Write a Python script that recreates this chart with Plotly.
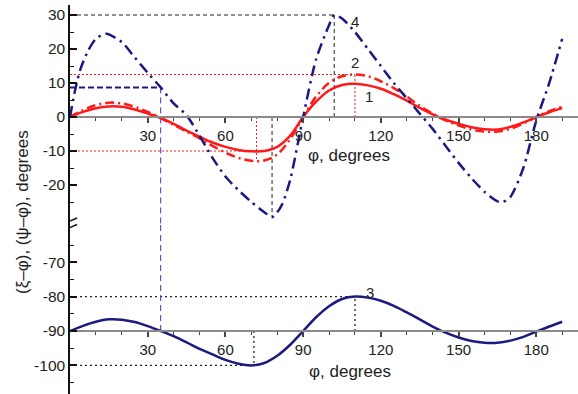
import plotly.graph_objects as go

# ---------------- data ----------------
phi1 = [0, 5, 10, 15, 20, 25, 30, 35, 40, 45, 50, 55, 60, 65, 70, 75, 80, 85, 90, 95,
        100, 105, 110, 115, 120, 125, 130, 135, 140, 145, 150, 155, 160, 165, 170, 175,
        180, 185, 190]
curve1 = [0, 1.5, 2.6, 3.1, 3.0, 2.2, 1.0, -0.3, -2.0, -4.0,
          -5.8, -7.5, -8.8, -9.7, -10.1, -10.0, -8.8, -5.5, 0, 4.5,
          7.8, 9.4, 9.8, 9.3, 8.3, 6.7, 4.8, 2.7, 0.8, -0.8,
          -2.0, -3.0, -3.6, -3.7, -2.9, -1.6, 0, 1.4, 2.6]
curve2 = [0, 2.0, 3.5, 4.2, 4.0, 3.0, 1.5, -0.3, -2.3, -4.3,
          -6.3, -8.5, -10.5, -12.0, -12.9, -12.8, -11.0, -6.5, 0, 6.0,
          10.0, 12.0, 12.5, 12.0, 10.5, 8.5, 6.0, 3.3, 1.0, -1.0,
          -2.5, -3.7, -4.3, -4.3, -3.5, -1.9, 0, 1.7, 3.0]
curve3 = [-90, -88.5, -87.3, -86.6, -86.7, -87.4, -88.6, -90, -91.5, -93.3,
          -95.2, -96.8, -98.4, -99.5, -100, -99.3, -97.2, -94, -90, -86,
          -82.8, -80.7, -80, -80.3, -81.2, -82.7, -84.6, -86.6, -88.7, -90.5,
          -91.9, -92.9, -93.4, -93.4, -92.8, -91.7, -90.2, -88.7, -87.3]
phi4 = [0, 2, 4, 7, 10, 14, 20, 25, 30, 35, 40, 45, 50, 55, 60, 65, 70, 75, 78, 80,
        82, 85, 90, 95, 100, 102, 105, 110, 115, 120, 125, 130, 135, 140, 145, 150,
        155, 160, 165, 167, 170, 175, 180, 185, 190]
curve4 = [0, 8, 14, 19.5, 23, 24.5, 22, 17.5, 13, 8.7,
          4, 0.5, -5.5, -12, -17.5, -21.5, -25, -28, -29.5, -28,
          -25.5, -18.5, 0, 17, 27, 30, 29, 25, 20, 15,
          10, 5.5, 1, -3.5, -8.5, -13.5, -18, -22, -24.8, -25,
          -23.5, -15, -1, 10, 23]

x_tickvals = [30, 60, 90, 120, 150, 180]
x_ticktext = ["30", "60", "90", "120", "150", "180"]
x_minorvals = [10, 20, 40, 50, 70, 80, 100, 110, 130, 140, 160, 170, 190]
yu_tickvals = [-20, -10, 0, 10, 20, 30]
yu_ticktext = ["-20", "-10", "0", "10", "20", "30"]
yu_minorvals = [-25, -15, -5, 5, 15, 25]
yl_tickvals = [-100, -90, -80, -70]
yl_ticktext = ["-100", "-90", "-80", "-70"]
yl_minorvals = [-105, -95, -85, -75, -65]

# guide lines (value levels and the angle where they end)
black_h = [(30, 102)]                      # (level, phi end)
black_v = [(102, 0, 30), (78, 0, -29.5)]   # (phi, from, to)
blue_h = [(8.7, 35)]
blue_v_phi = 35
blue_v_top = 8.7
blue_v_bottom = -90
red_h = [(12.5, 110), (-10, 72)]
red_v = [(110, 0, 12.5), (72, 0, -13)]
low_h = [(-80, 110), (-100, 71)]
low_v = [(110, -90, -80), (71, -90, -100)]

# ---------------- geometry ----------------
W, H = 578, 394
ML, MR, MT, MB = 70, 0, 5, 0
PH = H - MT - MB
xr = [0, 196.1]
brk_px = 225
brk = (H - MB - brk_px) / PH
yu = [-(brk_px - 117) / 3.4, (117 - MT) / 3.4]
yl = [-90 - (H - MB - 331) / 3.44, -90 + (331 - brk_px) / 3.44]
pos_u = brk + (0 - yu[0]) / (yu[1] - yu[0]) * (1 - brk)
pos_l = (-90 - yl[0]) / (yl[1] - yl[0]) * brk

RED = "#ff1a1a"
NAVY = "#1a1a80"
FONT = "Arial, Liberation Sans, sans-serif"

fig = go.Figure()


def seg(x, y, ax, color, width, dash):
    fig.add_trace(go.Scatter(x=x, y=y, xaxis=ax[0], yaxis=ax[1], mode="lines",
                             line=dict(color=color, width=width, dash=dash),
                             hoverinfo="skip", showlegend=False))


for lvl, end in black_h:
    seg([0, end], [lvl, lvl], ("x", "y"), "#222", 1, "4px,3px")
for p, a, b in black_v:
    seg([p, p], [a, b], ("x", "y"), "#222", 1, "4px,3px")
for lvl, end in red_h:
    seg([0, end], [lvl, lvl], ("x", "y"), RED, 1, "2px,2px")
for p, a, b in red_v:
    seg([p, p], [a, b], ("x", "y"), RED, 1, "2px,2px")
for lvl, end in low_h:
    seg([0, end], [lvl, lvl], ("x2", "y2"), "#222", 1.3, "2px,3px")
for p, a, b in low_v:
    seg([p, p], [a, b], ("x2", "y2"), "#222", 1.3, "2px,3px")
seg([blue_v_phi, blue_v_phi], [blue_v_top, yu[0]], ("x", "y"), "#3a3ad0", 1, "6px,4px")
seg([blue_v_phi, blue_v_phi], [yl[1], blue_v_bottom], ("x2", "y2"), "#3a3ad0", 1, "6px,4px")
for lvl, end in blue_h:
    seg([0, end], [lvl, lvl], ("x", "y"), NAVY, 2, "6px,3px")

# curves
fig.add_trace(go.Scatter(x=phi1, y=curve1, xaxis="x", yaxis="y", mode="lines",
                         line=dict(color=RED, width=2.5, shape="spline", smoothing=1),
                         showlegend=False))
fig.add_trace(go.Scatter(x=phi1, y=curve2, xaxis="x", yaxis="y", mode="lines",
                         line=dict(color=RED, width=2.5, shape="spline", smoothing=1,
                                   dash="9px,4px,2px,4px"),
                         showlegend=False))
fig.add_trace(go.Scatter(x=phi4, y=curve4, xaxis="x", yaxis="y", mode="lines",
                         line=dict(color=NAVY, width=2.5, shape="spline", smoothing=0.7,
                                   dash="11px,5px,2.5px,5px"),
                         showlegend=False))
fig.add_trace(go.Scatter(x=phi1, y=curve3, xaxis="x2", yaxis="y2", mode="lines",
                         line=dict(color=NAVY, width=2.5, shape="spline", smoothing=1),
                         showlegend=False))

tickfont = dict(family=FONT, size=15, color="#222")


def xaxis_cfg(pos, ticks, labels, overlay=None):
    d = dict(domain=[0, 1], range=xr, anchor="free", position=pos,
             showgrid=False, zeroline=False,
             showline=labels, linecolor="#8a8a8a", linewidth=1.5,
             ticks=ticks, ticklen=5, tickwidth=1.5, tickcolor="#444",
             tickmode="array", tickvals=x_tickvals, ticktext=x_ticktext,
             showticklabels=labels, tickfont=tickfont, ticklabelstandoff=0,
             minor=dict(ticks=ticks, tickmode="array", tickvals=x_minorvals,
                        ticklen=3.5, tickwidth=1.3, tickcolor="#444"))
    if overlay:
        d["overlaying"] = overlay
    return d


yfont = dict(family=FONT, size=15.5, color="#222")


def yaxis_cfg(dom, rng, anchor, tv, tt, mv):
    return dict(domain=dom, range=rng, anchor=anchor, showgrid=False, zeroline=False,
                showline=True, linecolor="#111", linewidth=1.5,
                ticks="inside", ticklen=7, tickwidth=1.5, tickcolor="#111",
                tickmode="array", tickvals=tv, ticktext=tt, tickfont=yfont,
                ticklabelstandoff=0,
                minor=dict(ticks="inside", tickmode="array", tickvals=mv,
                           ticklen=4, tickwidth=1.3, tickcolor="#111"))


fig.update_layout(
    width=W, height=H,
    margin=dict(l=ML, r=MR, t=MT, b=MB),
    paper_bgcolor="white", plot_bgcolor="white",
    xaxis=xaxis_cfg(pos_u, "outside", True),
    xaxis3=xaxis_cfg(pos_u, "inside", False, "x"),
    xaxis2=xaxis_cfg(pos_l, "outside", True),
    xaxis4=xaxis_cfg(pos_l, "inside", False, "x2"),
    yaxis=yaxis_cfg([brk, 1], yu, "x", yu_tickvals, yu_ticktext, yu_minorvals),
    yaxis2=yaxis_cfg([0, brk], yl, "x2", yl_tickvals, yl_ticktext, yl_minorvals),
    showlegend=False,
)

# axis break marks
for dy0, dy1 in [(0.5, 7), (-6, 0.5)]:
    fig.add_shape(type="line", xref="x", yref="paper", xsizemode="pixel",
                  ysizemode="pixel", xanchor=0, yanchor=brk,
                  x0=-8, x1=7, y0=dy0, y1=dy1, line=dict(color="#111", width=1.5))

ann = dict(showarrow=False, font=dict(family=FONT, size=15, color="#222"))
for txt, px, py, ax in [("4", 110, 28.2, ("x", "y")), ("2", 110, 16.0, ("x", "y")),
                        ("1", 115.4, 5.9, ("x", "y")), ("3", 115.8, -78.7, ("x2", "y2"))]:
    fig.add_annotation(text=txt, x=px, y=py, xref=ax[0], yref=ax[1], **ann)

tfont = dict(family=FONT, size=17, color="#222")
fig.add_annotation(text="φ, degrees", x=107.7, y=-11.2, xref="x", yref="y",
                   showarrow=False, font=tfont)
fig.add_annotation(text="φ, degrees", x=108, y=-101.9, xref="x2", yref="y2",
                   showarrow=False, font=tfont)
fig.add_annotation(text="(ξ–φ), (ψ–φ), degrees", textangle=-90,
                   x=(22 - ML) / (W - ML - MR), y=(H - MB - 212) / PH,
                   xanchor="center", yanchor="middle",
                   xref="paper", yref="paper", showarrow=False, font=tfont)

fig.write_html("out.html", config={"displayModeBar": False},
               post_script="document.body.style.margin='0px';")
